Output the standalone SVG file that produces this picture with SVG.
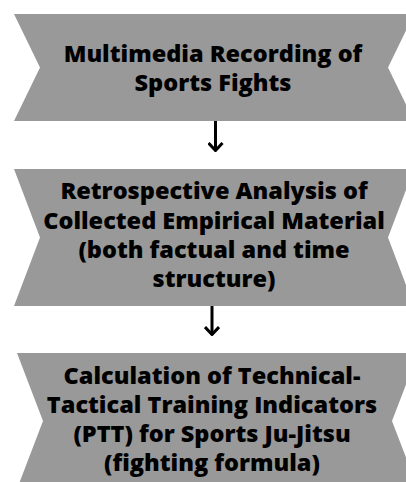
<svg xmlns="http://www.w3.org/2000/svg" width="406" height="482" viewBox="0 0 406 482">
  <style>
    .banner { fill: #999999; }
    .label { font-family: "Open Sans", "Liberation Sans", sans-serif; font-weight: 800; font-size: 23.5px; fill: #000; text-anchor: middle; }
    .link { stroke: #000; stroke-width: 3; fill: none; }
  </style>
  <defs>
    <!-- open chevron head, drawn pointing along +x so orient="auto" turns it with the line -->
    <marker id="head" viewBox="0 0 10 16" refX="9" refY="8" markerWidth="10" markerHeight="16" markerUnits="userSpaceOnUse" orient="auto">
      <path d="M1,1 L8.5,8 L1,15" fill="none" stroke="#000" stroke-width="3"/>
    </marker>
  </defs>

  <g id="node-recording">
    <polygon class="banner" points="14,14 414,14 388,67.5 414,121 14,121 40,67.5"/>
    <text class="label" x="213" y="62">Multimedia Recording of</text>
    <text class="label" x="213" y="91">Sports Fights</text>
  </g>

  <g id="node-analysis">
    <polygon class="banner" points="14,169 414,169 388,237.5 414,306 14,306 40,237.5"/>
    <text class="label" x="214" y="199">Retrospective Analysis of</text>
    <text class="label" x="214" y="229">Collected Empirical Material</text>
    <text class="label" x="214" y="258">(both factual and time</text>
    <text class="label" x="214" y="287">structure)</text>
  </g>

  <g id="node-calculation">
    <polygon class="banner" points="17,353 418,353 392,421 418,489 17,489 43,421"/>
    <text class="label" x="212" y="384">Calculation of Technical-</text>
    <text class="label" x="212" y="413">Tactical Training Indicators</text>
    <text class="label" x="212" y="442">(PTT) for Sports Ju-Jitsu</text>
    <text class="label" x="212" y="471">(fighting formula)</text>
  </g>

  <g id="connectors">
    <path class="link" d="M215.5,121 L215.5,151" marker-end="url(#head)"/>
    <path class="link" d="M212,306 L212,335" marker-end="url(#head)"/>
  </g>
</svg>
